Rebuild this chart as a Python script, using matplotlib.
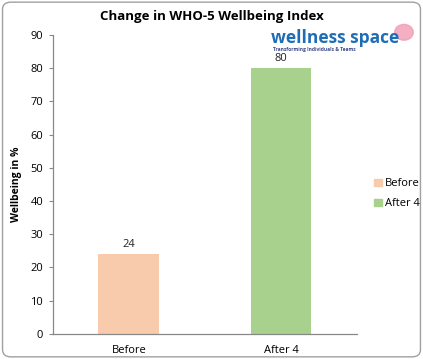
import matplotlib.pyplot as plt
from matplotlib.patches import FancyBboxPatch, Patch

categories = ["Before", "After 4"]
values = [24, 80]
colors = ["#F8CBAD", "#A9D18E"]
yticks = list(range(0, 100, 10))

plt.rcParams["font.family"] = ["Open Sans", "DejaVu Sans"]

fig = plt.figure(figsize=(4.23, 3.59), dpi=100)
ax = fig.add_axes([0.125, 0.070, 0.719, 0.8325])

bars = ax.bar(categories, values, width=0.4, color=colors)
for b, v in zip(bars, values):
    ax.text(b.get_x() + b.get_width() / 2, v + 1.2, str(v), ha="center", va="bottom",
            fontsize=8, color="#222222")

ax.set_ylim(0, 90)
ax.set_xlim(-0.5, 1.5)
ax.set_yticks(yticks)
ax.tick_params(axis="y", labelsize=8, length=3, color="#888888", pad=4)
ax.tick_params(axis="x", labelsize=8, length=0, pad=8)
for s in ["top", "right"]:
    ax.spines[s].set_visible(False)
for s in ["left", "bottom"]:
    ax.spines[s].set_color("#888888")
    ax.spines[s].set_linewidth(0.9)

ax.set_ylabel("Wellbeing in %", fontsize=7.5, fontweight="bold", labelpad=6)
fig.text(0.50, 0.955, "Change in WHO-5 Wellbeing Index", ha="center", va="center",
         fontsize=9.5, fontweight="bold")

# legend
handles = [Patch(color=c, label=l) for c, l in zip(colors, categories)]
fig.legend(handles=handles, loc="center left", bbox_to_anchor=(0.86, 0.46), frameon=False,
           fontsize=8, handlelength=0.7, handleheight=0.7, handletextpad=0.3, labelspacing=0.8)

# logo
fig.text(0.64, 0.895, "wellness space", fontsize=12.5, fontweight="bold", color="#1F6DB5",
         ha="left", va="center")
fig.text(0.645, 0.862, "Transforming Individuals & Teams", fontsize=3.5, fontweight="bold",
         color="#3C4A8C", ha="left", va="center")
fig.patches.append(plt.Circle((0.955, 0.91), 0.022, transform=fig.transFigure,
                              color="#F29BB5", alpha=0.8))

# outer rounded border
fig.patches.append(FancyBboxPatch((0.006, 0.006), 0.988, 0.988, boxstyle="round,pad=0,rounding_size=0.02",
                                  transform=fig.transFigure, fill=False, edgecolor="#A0A0A0", linewidth=1))

fig.savefig("out.png", dpi=100)
